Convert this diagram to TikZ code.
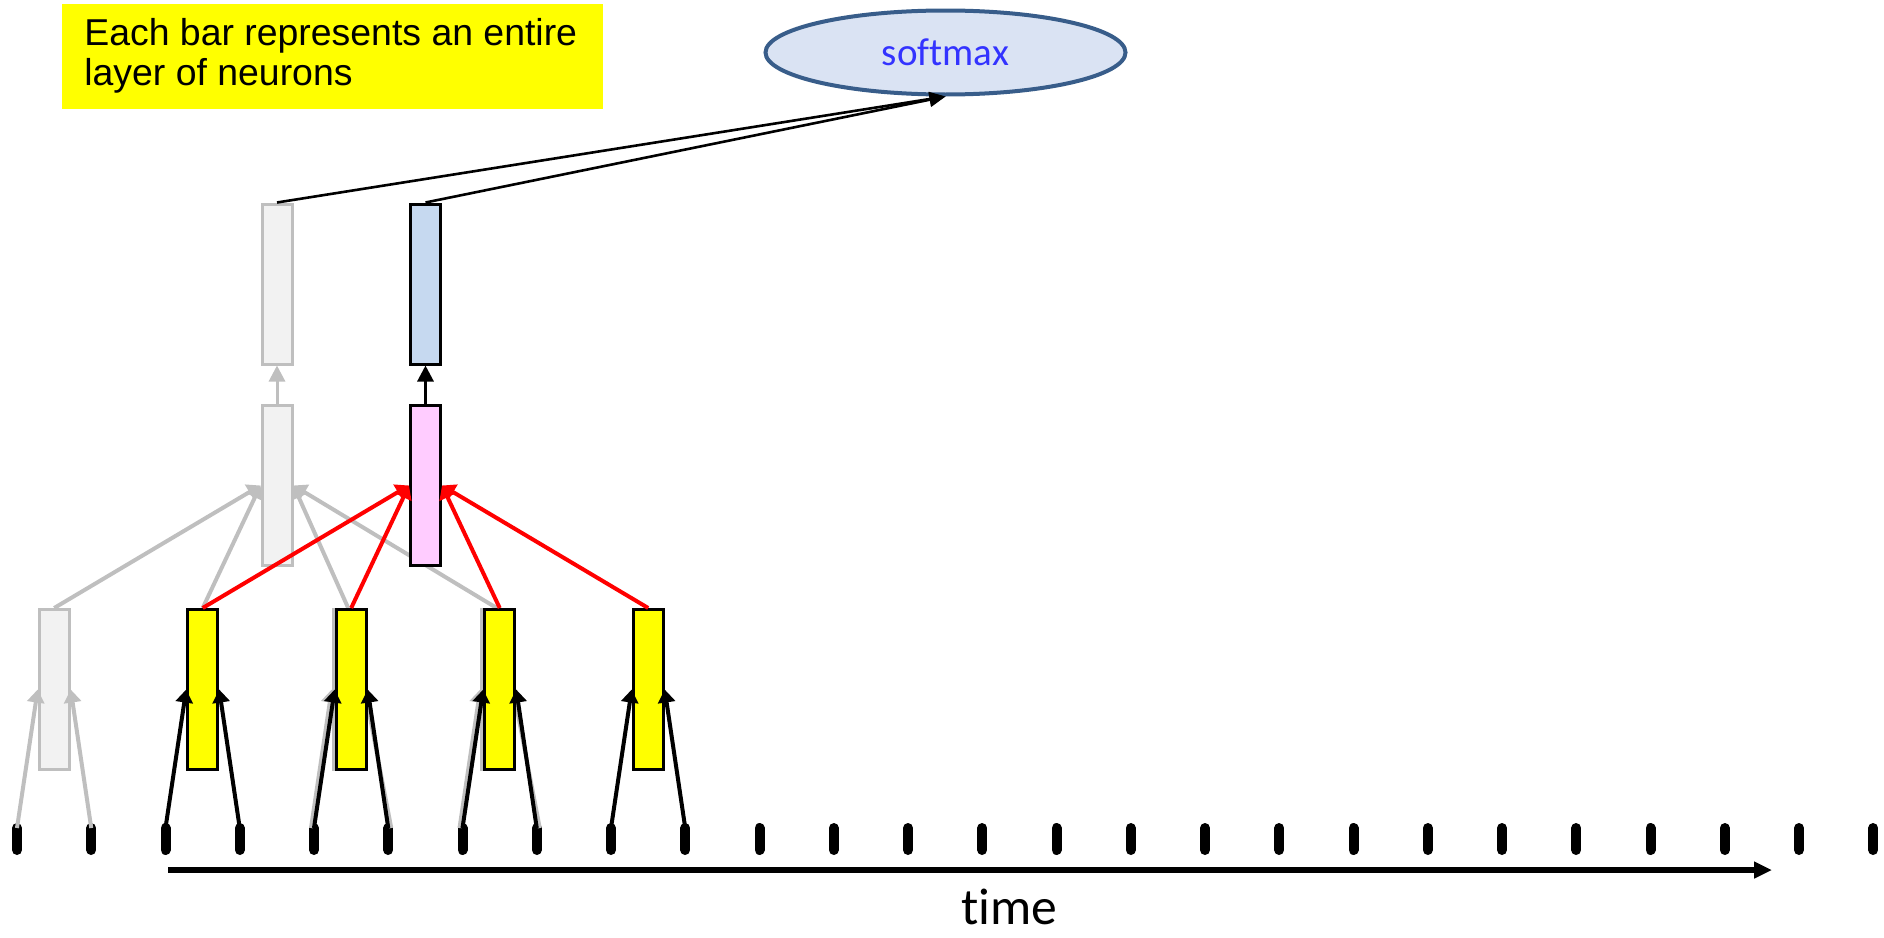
\documentclass[tikz,border=0pt]{standalone}
\usepackage{fontspec}
\setmainfont{Carlito}[Ligatures=NoCommon]
\newfontfamily\notefont{Liberation Sans}
\usetikzlibrary{arrows.meta,shapes.geometric}
\definecolor{noteyellow}{HTML}{FFFF00}
\definecolor{barfillgray}{HTML}{F2F2F2}
\definecolor{ghostgray}{HTML}{BFBFBF}
\definecolor{barblue}{HTML}{C6D9F0}
\definecolor{barpink}{HTML}{FFCCFF}
\definecolor{smfill}{HTML}{DAE3F3}
\definecolor{smdraw}{HTML}{385D8A}
\definecolor{smtext}{HTML}{3333FF}
\definecolor{pureRed}{HTML}{FF0000}
\pgfdeclarelayer{bg}
\pgfsetlayers{bg,main}
\begin{document}
\begin{tikzpicture}[x=0.5pt,y=-0.5pt,
  bar/.style={rectangle, minimum width=15pt, minimum height=80pt, inner sep=0pt, line width=1.5pt, draw=black},
  graybar/.style={bar, draw=ghostgray, fill=barfillgray},
  yelbar/.style={bar, fill=noteyellow},
  inarrow/.style={line width=2pt, -{Triangle[length=6.5pt,width=8.5pt]}},
  grayarrow/.style={inarrow, draw=ghostgray, fill=ghostgray},
  blackarrow/.style={inarrow, black},
  redarrow/.style={inarrow, draw=pureRed, fill=pureRed},
  uparrow/.style={line width=1.5pt, -{Triangle[length=8pt,width=8pt]}},
  smarrow/.style={line width=1.3pt, -{Triangle[length=8pt,width=7pt]}},
  tickmark/.style={line width=5pt, line cap=round},
]
\useasboundingbox (0,0) rectangle (1884,937);

% note
\node[fill=noteyellow, anchor=north west, minimum width=270.5pt, minimum height=52.5pt, inner sep=0pt] (notebox) at (62,4) {};
\node[anchor=north west, inner sep=0pt, align=left, font=\notefont\fontsize{18.7}{19.75}\selectfont] (note) at (84,18) {Each bar represents an entire\\layer of neurons};

% softmax
\node[ellipse, draw=smdraw, fill=smfill, line width=2pt, minimum width=180pt, minimum height=42pt, inner sep=0pt, text=smtext, font=\fontsize{19.5}{23}\selectfont] (softmax) at (945.5,52.5) {softmax};

% ticks
\foreach \k in {0,...,25} {
  \coordinate (t\k) at ({17+74.25*\k},828);
  \draw[tickmark] (t\k) -- ++(0,22);
}

% time arrow
\coordinate (tstart) at (168,870);
\coordinate (tend) at (1772,870);
\draw[line width=3pt, -{Triangle[length=9pt,width=8pt]}] (tstart) -- (tend);
\node[anchor=base, inner sep=0pt, font=\fontsize{25.8}{30}\selectfont] (timelabel) at (1009,924) {time};

% gray network
\node[graybar] (b0) at (54.2,689.5) {};
\node[graybar] (g2) at (348.2,689.5) {};
\node[graybar] (g3) at (496.7,689.5) {};
\node[graybar] (gL2) at (277,485.5) {};
\node[graybar] (gL3) at (277,284) {};
\draw[grayarrow] (t0) -- (b0.west);
\draw[grayarrow] (t1) -- (b0.east);
\draw[grayarrow] ([xshift=-1.5pt]t4) -- (g2.west);
\draw[grayarrow] ([xshift=1.5pt]t5) -- (g2.east);
\draw[grayarrow] ([xshift=-1.5pt]t6) -- (g3.west);
\draw[grayarrow] ([xshift=1.5pt]t7) -- (g3.east);
\draw[uparrow, draw=ghostgray, fill=ghostgray] (gL2.north) -- (gL3.south);

% colored network
\node[yelbar] (b1) at (202.7,689.5) {};
\node[yelbar] (b2) at (351.2,689.5) {};
\node[yelbar] (b3) at (499.7,689.5) {};
\node[yelbar] (b4) at (648.2,689.5) {};
\node[bar, fill=barpink] (p2) at (425.5,485.5) {};
\node[bar, fill=barblue] (bl) at (425.5,284) {};

\begin{pgfonlayer}{bg}
\draw[grayarrow] (b0.north) -- (gL2.west);
\draw[grayarrow] (b1.north) -- (gL2.west);
\draw[grayarrow] (g2.north) -- (gL2.east);
\draw[grayarrow] (g3.north) -- (gL2.east);
\end{pgfonlayer}

\draw[blackarrow] (t2) -- (b1.west);
\draw[blackarrow] (t3) -- (b1.east);
\draw[blackarrow] (t4) -- (b2.west);
\draw[blackarrow] (t5) -- (b2.east);
\draw[blackarrow] (t6) -- (b3.west);
\draw[blackarrow] (t7) -- (b3.east);
\draw[blackarrow] (t8) -- (b4.west);
\draw[blackarrow] (t9) -- (b4.east);

\draw[redarrow] (b1.north) -- (p2.west);
\draw[redarrow] (b2.north) -- (p2.west);
\draw[redarrow] (b3.north) -- (p2.east);
\draw[redarrow] (b4.north) -- (p2.east);

\draw[uparrow] (p2.north) -- (bl.south);

\draw[smarrow] (gL3.north) -- (softmax.south);
\draw[smarrow] (bl.north) -- (softmax.south);
\end{tikzpicture}
\end{document}
